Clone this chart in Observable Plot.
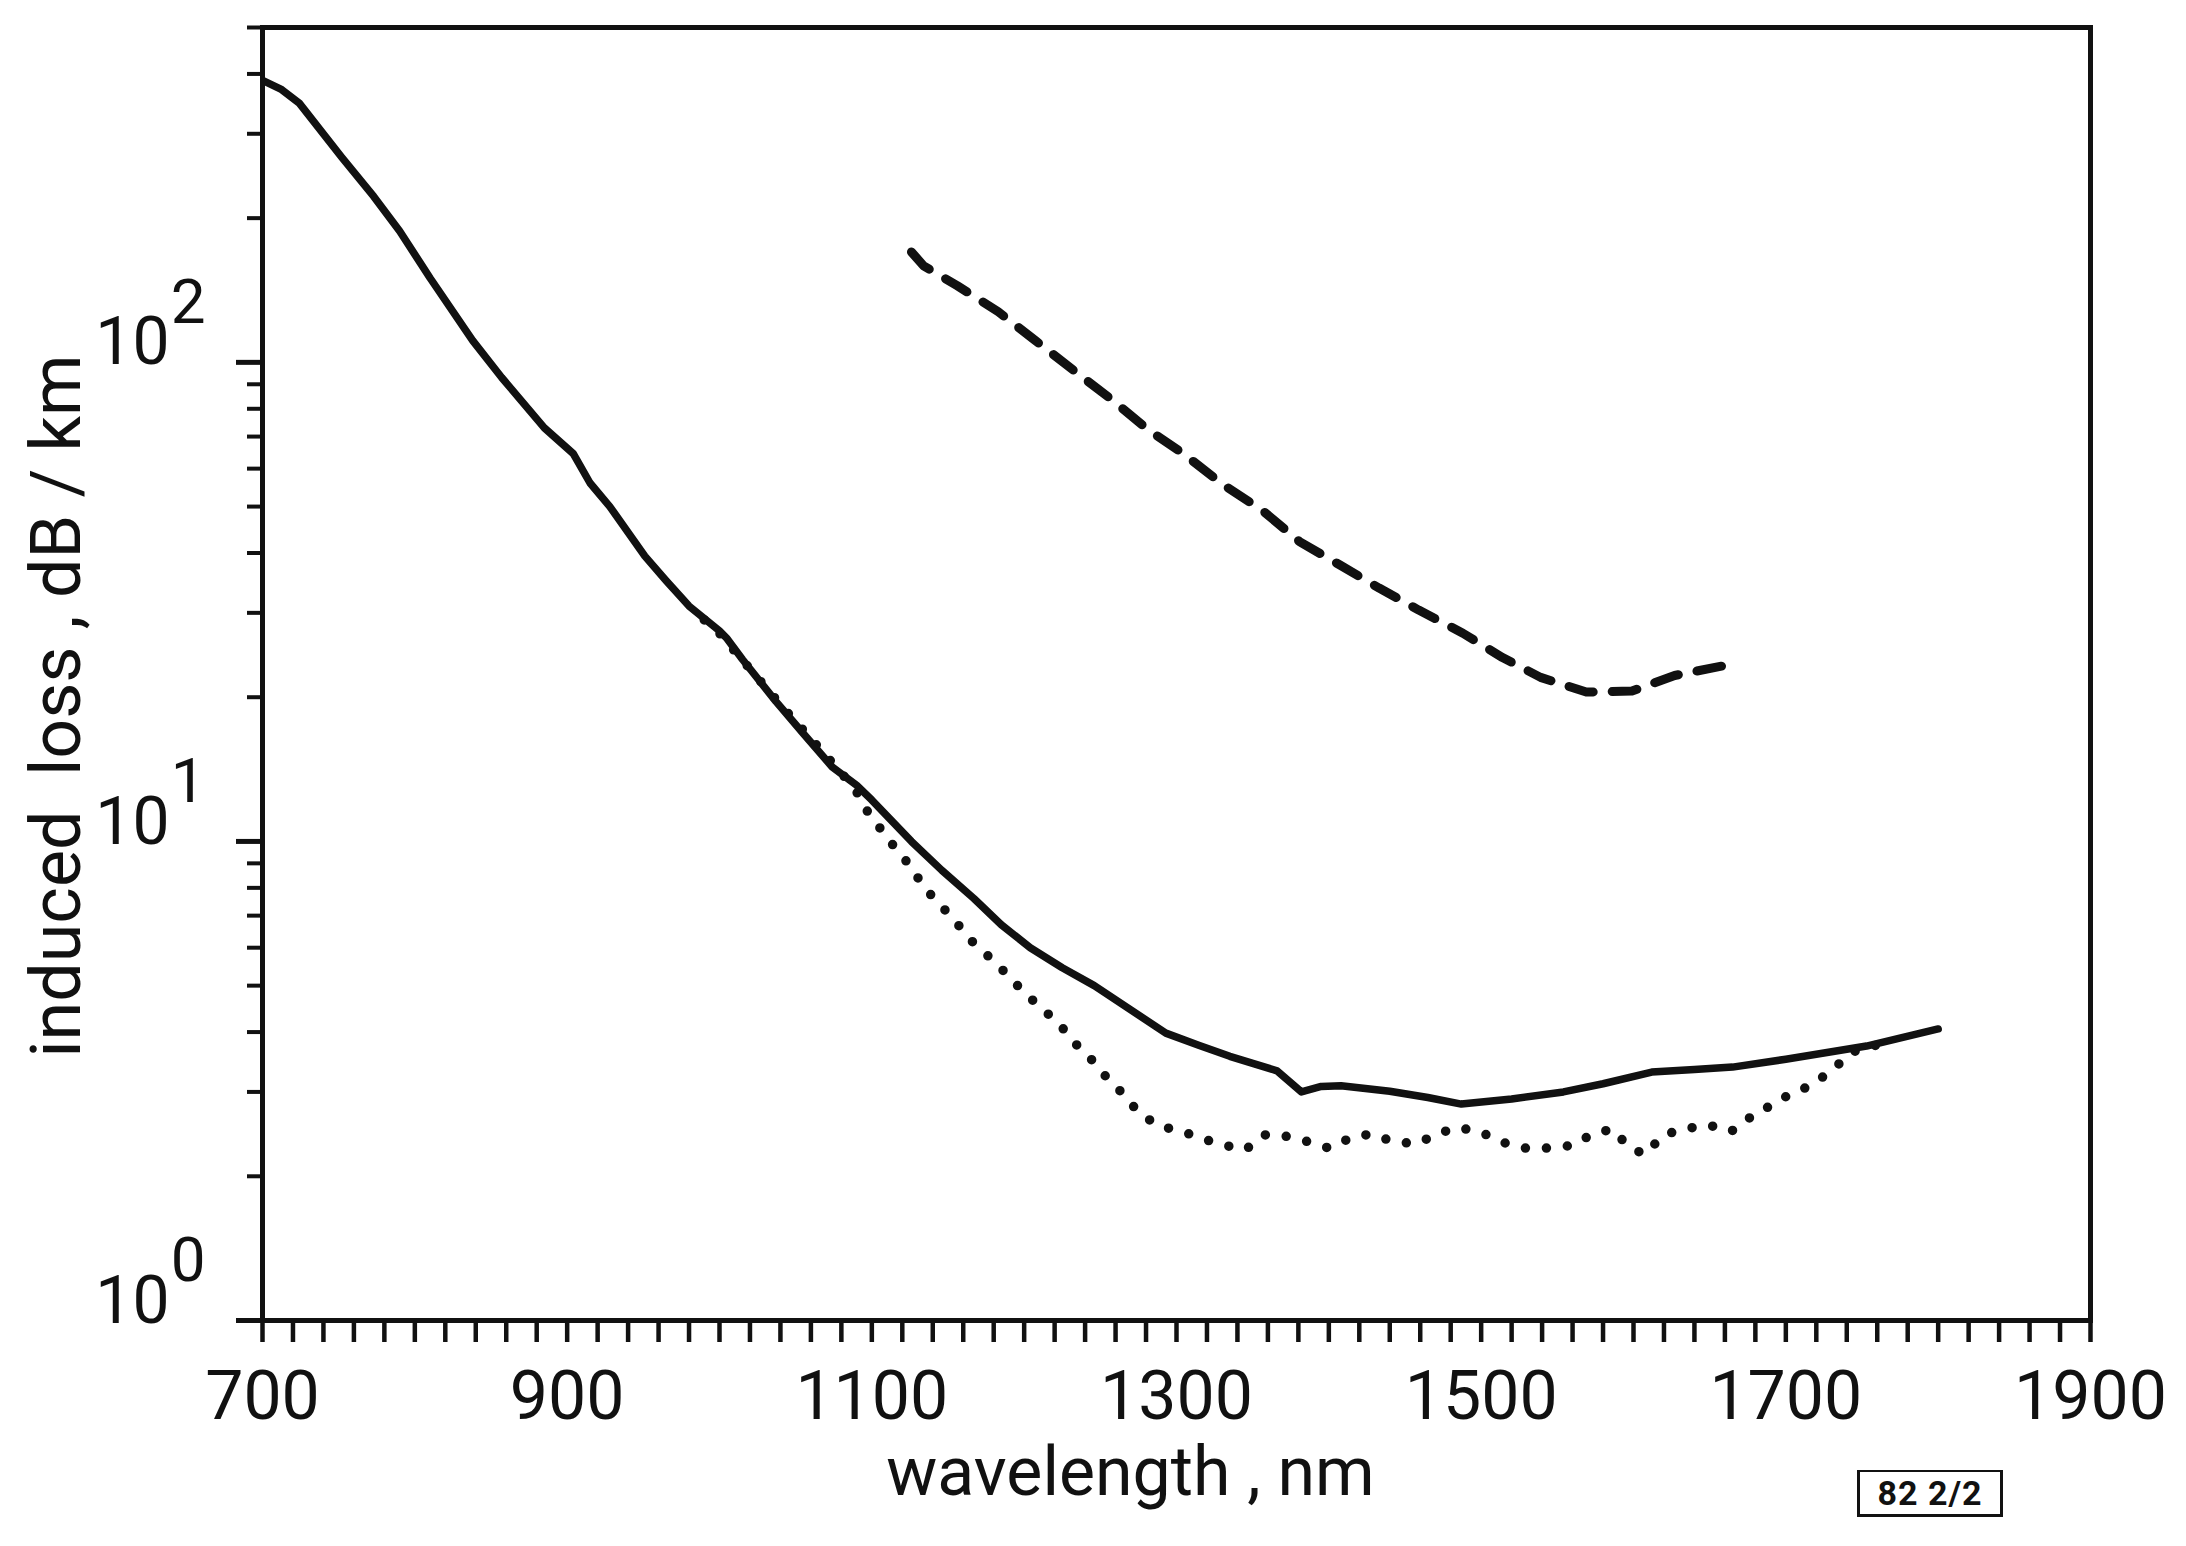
<!DOCTYPE html>
<html>
<head>
<meta charset="utf-8">
<script src="https://cdn.jsdelivr.net/npm/d3@7"></script>
<script src="https://cdn.jsdelivr.net/npm/@observablehq/plot@0.6"></script>
<style>
  html, body { margin: 0; padding: 0; background: #fff; }
  #wrap { position: relative; width: 2186px; height: 1546px; }
  #tag {
    position: absolute; left: 1857px; top: 1470px; width: 140px; height: 42px;
    border: 3px solid #111; border-top-width: 2px;
    font-family: "Liberation Sans Narrow", "Roboto", sans-serif; font-size: 34px; font-weight: bold;
    line-height: 42px; text-align: center; color: #111; letter-spacing: 1px;
  }
  g[aria-label="xtitle"] text { letter-spacing: 4px; }
  g[aria-label="ytitle"] text { letter-spacing: 1.5px; }
  g[aria-label="ybase"] text { letter-spacing: 4px; }
</style>
</head>
<body>
<div id="wrap"><div id="tag">82 2/2</div></div>
<script>
// ---- data ----
const solidWl = [700, 712, 724, 752, 773, 790, 810, 838, 857, 885, 904, 915, 928, 951, 965, 980, 1000, 1005, 1015, 1037, 1055, 1074, 1090, 1100, 1126, 1146, 1167, 1185, 1204, 1225, 1246, 1270, 1293, 1315, 1335, 1366, 1382, 1395, 1408, 1440, 1465, 1487, 1520, 1554, 1580, 1612, 1640, 1665, 1700, 1753, 1800];
const solidLoss = [388, 372, 348, 268, 222, 188, 150, 111, 93, 73, 64.5, 56, 50, 39.4, 35, 31, 27.5, 26.5, 24, 19.6, 16.8, 14.3, 13.1, 12.2, 10.0, 8.7, 7.6, 6.7, 6.0, 5.45, 5.0, 4.45, 3.98, 3.75, 3.56, 3.32, 3.0, 3.08, 3.09, 3.01, 2.92, 2.83, 2.9, 3.0, 3.12, 3.3, 3.34, 3.38, 3.51, 3.74, 4.06];

const dottedWl = [990, 1000, 1040, 1080, 1090, 1095, 1105, 1115, 1126, 1134, 1144, 1155, 1165, 1178, 1189, 1199, 1212, 1223, 1233, 1244, 1254, 1265, 1275, 1288, 1304, 1316, 1332, 1345, 1358, 1368, 1387, 1400, 1416, 1429, 1442, 1458, 1471, 1484, 1499, 1513, 1528, 1544, 1560, 1573, 1586, 1596, 1607, 1620, 1633, 1649, 1664, 1677, 1690, 1703, 1716, 1730, 1743, 1760];
const dottedLoss = [29, 27.2, 19.3, 13.9, 12.7, 11.8, 10.7, 9.72, 8.83, 8.03, 7.43, 6.8, 6.22, 5.7, 5.27, 4.87, 4.47, 4.16, 3.80, 3.51, 3.22, 2.97, 2.72, 2.55, 2.48, 2.40, 2.32, 2.27, 2.44, 2.44, 2.36, 2.29, 2.42, 2.45, 2.36, 2.34, 2.45, 2.53, 2.48, 2.36, 2.29, 2.29, 2.32, 2.45, 2.51, 2.32, 2.22, 2.44, 2.51, 2.56, 2.48, 2.66, 2.81, 2.97, 3.09, 3.32, 3.63, 3.76];

const dashedWl = [1126, 1134, 1156, 1183, 1207, 1232, 1256, 1281, 1305, 1330, 1356, 1381, 1407, 1433, 1459, 1488, 1514, 1539, 1569, 1599, 1627, 1663];
const dashedLoss = [170, 159, 144.6, 127.5, 111.3, 96.5, 84.3, 72.5, 64.3, 55.7, 49.2, 42.2, 37.8, 33.8, 30.4, 27.2, 24.2, 22.0, 20.5, 20.6, 22.2, 23.4];

const xTickLabels = [700, 900, 1100, 1300, 1500, 1700, 1900];
const yMajorTicks = [1, 10, 100];
const yMinorTicks = [2, 3, 4, 5, 6, 7, 8, 9, 20, 30, 40, 50, 60, 70, 80, 90, 200, 300, 400, 500];
const xMinorStep = 20;
const xTitle = "wavelength , nm";
const yTitle = "induced  loss , dB / km";

const toRows = (xs, ys) => xs.map((x, i) => ({wl: x, loss: ys[i]}));
const solid = toRows(solidWl, solidLoss);
const dotted = toRows(dottedWl, dottedLoss);
const dashed = toRows(dashedWl, dashedLoss);
const xMinorTicks = d3.range(700, 1900 + 1, xMinorStep);

const chart = Plot.plot({
  width: 2186,
  height: 1546,
  marginLeft: 262,
  marginRight: 96,
  marginTop: 27,
  marginBottom: 226,
  style: {fontFamily: "Roboto, 'DejaVu Sans', sans-serif", color: "#111", background: "white"},
  x: {domain: [700, 1900]},
  y: {type: "log", domain: [1, 500]},
  marks: [
    Plot.axisX(xMinorTicks, {
      tickSize: 22, strokeWidth: 4.5, tickPadding: 28, fontSize: 68,
      tickFormat: d => xTickLabels.includes(d) ? String(d) : "", label: null
    }),
    Plot.axisY(yMajorTicks, {tickSize: 26, strokeWidth: 5, tickFormat: () => "", label: null}),
    Plot.axisY(yMinorTicks, {tickSize: 15, strokeWidth: 4, tickFormat: () => "", label: null}),
    Plot.text(yMajorTicks, {
      y: d => d, frameAnchor: "left", text: () => "10", textAnchor: "end",
      dx: -93, dy: -19, fontSize: 66, ariaLabel: "ybase"
    }),
    Plot.text(yMajorTicks, {
      y: d => d, frameAnchor: "left", text: d => String(Math.round(Math.log10(d))), textAnchor: "end",
      dx: -57, dy: -59, fontSize: 62
    }),
    Plot.text([xTitle], {
      text: d => d, frameAnchor: "bottom", textAnchor: "middle", dx: -46, dy: 174, fontSize: 68, ariaLabel: "xtitle"
    }),
    Plot.text([yTitle], {
      text: d => d, frameAnchor: "left", textAnchor: "middle", rotate: -90, dx: -205, dy: 32, fontSize: 70, ariaLabel: "ytitle"
    }),
    Plot.line(dashed, {x: "wl", y: "loss", stroke: "#111", strokeWidth: 9, strokeDasharray: "25,19", clip: true}),
    Plot.line(dotted, {x: "wl", y: "loss", stroke: "#111", strokeWidth: 9.5, strokeDasharray: "0,21", strokeLinecap: "round", clip: true}),
    Plot.line(solid, {x: "wl", y: "loss", stroke: "#111", strokeWidth: 7.5, strokeLinejoin: "round", clip: true}),
    Plot.frame({stroke: "#111", strokeWidth: 5})
  ]
});
document.getElementById("wrap").prepend(chart);
</script>
</body>
</html>
